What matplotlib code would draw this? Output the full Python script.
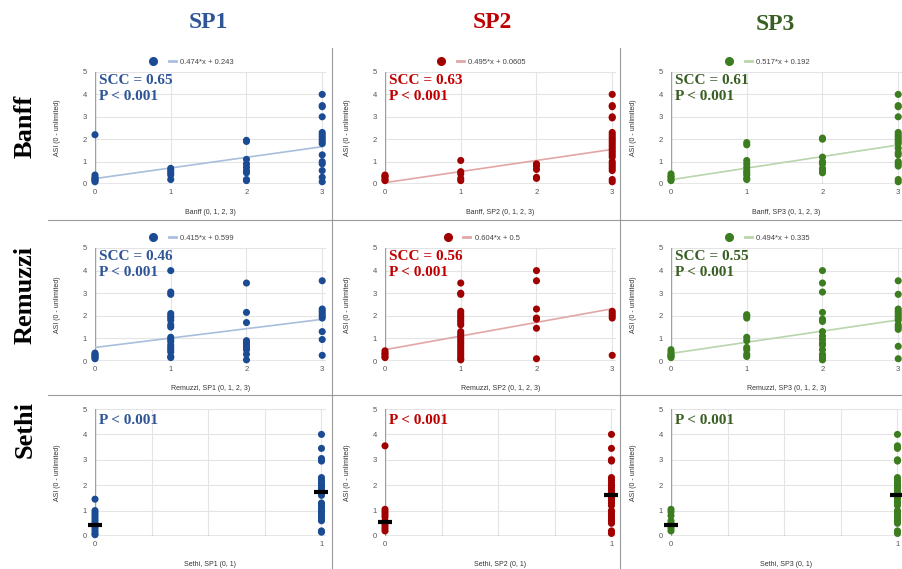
import matplotlib.pyplot as plt
from matplotlib.lines import Line2D

# ASI (0 - unlimited) values, one inner list per grade (index = grade)
banff_sp1 = [
    [2.2, 0.4, 0.3, 0.25, 0.2, 0.15, 0.1],
    [0.7, 0.6, 0.5, 0.4, 0.2],
    [1.95, 1.9, 1.1, 0.9, 0.75, 0.6, 0.5, 0.2, 0.15],
    [4.0, 3.5, 3.45, 3.0, 2.3, 2.2, 2.1, 2.0, 1.9, 1.8, 1.3, 1.0, 0.9, 0.6, 0.3, 0.1],
]
banff_sp2 = [
    [0.4, 0.35, 0.3, 0.2, 0.15],
    [1.05, 0.55, 0.45, 0.25, 0.15],
    [0.9, 0.8, 0.65, 0.3, 0.25],
    [4.0, 3.5, 3.45, 3.0, 2.95, 2.3, 2.2, 2.1, 2.0, 1.9, 1.8, 1.7, 1.6, 1.5, 1.4,
     1.3, 1.2, 1.0, 0.9, 0.8, 0.7, 0.6, 0.2, 0.1],
]
banff_sp3 = [
    [0.45, 0.35, 0.3, 0.2, 0.15],
    [1.85, 1.75, 1.05, 0.9, 0.75, 0.6, 0.5, 0.4, 0.25, 0.2],
    [2.05, 2.0, 1.2, 1.0, 0.9, 0.7, 0.6, 0.5],
    [4.0, 3.5, 3.45, 3.0, 2.3, 2.2, 2.1, 2.0, 1.9, 1.8, 1.6, 1.4, 1.3, 1.0, 0.9,
     0.8, 0.2, 0.1],
]
remuzzi_sp1 = [
    [0.35, 0.3, 0.25, 0.2, 0.15, 0.1],
    [4.0, 3.05, 2.95, 2.1, 2.0, 1.9, 1.8, 1.6, 1.5, 1.05, 0.95, 0.85, 0.7, 0.6,
     0.5, 0.4, 0.2, 0.15],
    [3.45, 2.15, 1.7, 0.9, 0.8, 0.7, 0.6, 0.5, 0.3, 0.05],
    [3.55, 2.3, 2.2, 2.1, 2.0, 1.9, 1.3, 0.95, 0.25],
]
remuzzi_sp2 = [
    [0.45, 0.35, 0.3, 0.2, 0.15],
    [3.45, 3.0, 2.95, 2.2, 2.1, 2.0, 1.9, 1.8, 1.7, 1.6, 1.3, 1.2, 1.1, 1.0, 0.9,
     0.8, 0.7, 0.6, 0.5, 0.4, 0.3, 0.2, 0.1, 0.05],
    [4.0, 3.55, 2.3, 1.9, 1.85, 1.45, 0.1],
    [2.2, 2.1, 2.0, 1.9, 0.25],
]
remuzzi_sp3 = [
    [0.5, 0.4, 0.3, 0.25, 0.2, 0.15],
    [2.05, 2.0, 1.9, 1.05, 0.9, 0.6, 0.5, 0.3, 0.2],
    [4.0, 3.45, 3.05, 2.15, 1.85, 1.75, 1.3, 1.1, 0.95, 0.8, 0.7, 0.5, 0.3, 0.2,
     0.1, 0.05],
    [3.55, 2.95, 2.3, 2.2, 2.1, 2.0, 1.9, 1.8, 1.6, 1.5, 1.4, 0.65, 0.1],
]
sethi_sp1 = [
    [1.45, 1.0, 0.9, 0.8, 0.7, 0.6, 0.5, 0.4, 0.3, 0.2, 0.1, 0.05],
    [4.0, 3.45, 3.05, 2.95, 2.3, 2.2, 2.1, 2.0, 1.9, 1.8, 1.7, 1.6, 1.3, 1.2, 1.1,
     1.0, 0.9, 0.8, 0.7, 0.6, 0.2, 0.15],
]
sethi_sp2 = [
    [3.55, 1.05, 0.95, 0.85, 0.75, 0.6, 0.5, 0.4, 0.3, 0.2],
    [4.0, 3.45, 3.0, 2.95, 2.3, 2.2, 2.1, 2.0, 1.9, 1.8, 1.7, 1.6, 1.5, 1.4, 1.3,
     1.2, 1.0, 0.9, 0.8, 0.7, 0.6, 0.5, 0.2, 0.1],
]
sethi_sp3 = [
    [1.05, 0.95, 0.8, 0.6, 0.5, 0.4, 0.3, 0.2],
    [4.0, 3.55, 3.45, 3.0, 2.95, 2.3, 2.2, 2.1, 2.0, 1.9, 1.8, 1.7, 1.6, 1.5, 1.4,
     1.3, 1.2, 1.0, 0.9, 0.8, 0.7, 0.6, 0.5, 0.2, 0.1],
]

# trend lines and statistics per SP column
banff_slope = [0.474, 0.495, 0.517]
banff_icpt = [0.243, 0.0605, 0.192]
remuzzi_slope = [0.415, 0.604, 0.494]
remuzzi_icpt = [0.599, 0.5, 0.335]
banff_scc = [0.65, 0.63, 0.61]
remuzzi_scc = [0.46, 0.56, 0.55]
sethi_means = [[0.45, 1.75], [0.55, 1.6], [0.45, 1.6]]

sp_names = ['SP1', 'SP2', 'SP3']
row_names = ['Banff', 'Remuzzi', 'Sethi']
dot_colors = ['#1b4b93', '#a10000', '#3b7d1f']
line_colors = ['#a9bedb', '#e2a6a6', '#b9d5ab']
text_colors = ['#2f5597', '#c00000', '#3a5f24']

W, H = 903, 569
fig = plt.figure(figsize=(W / 100, H / 100), dpi=100)
fig.patch.set_facecolor('white')

SERIF = 'Liberation Serif'
SANS = 'Liberation Sans'

col_left = [95, 385, 671]
ax_w = 231
row_top = [72, 248, 409]
row_bot = [184, 361, 536]

panels = [
    [banff_sp1, banff_sp2, banff_sp3],
    [remuzzi_sp1, remuzzi_sp2, remuzzi_sp3],
    [sethi_sp1, sethi_sp2, sethi_sp3],
]


def xlabel_for(r, c):
    if r == 0:
        return 'Banff (0, 1, 2, 3)' if c == 0 else 'Banff, %s (0, 1, 2, 3)' % sp_names[c]
    if r == 1:
        return 'Remuzzi, %s (0, 1, 2, 3)' % sp_names[c]
    return 'Sethi, %s (0, 1)' % sp_names[c]


for r in range(3):
    for c in range(3):
        h = row_bot[r] - row_top[r]
        ax = fig.add_axes([col_left[c] / W, 1 - row_bot[r] / H, ax_w / W, h / H])
        groups = panels[r][c]
        ngrades = len(groups)

        for s in ax.spines.values():
            s.set_visible(False)
        ax.set_ylim(0, 5)
        ax.set_yticks(range(6))
        if ngrades == 4:
            ax.set_xlim(0, 3.05)
            ax.set_xticks(range(4))
        else:
            ax.set_xlim(0, 1.02)
            ax.set_xticks([0, 1])
            ax.set_xticks([0.25, 0.5, 0.75], minor=True)
            ax.grid(True, which='minor', axis='x', color='#e4e4e4', lw=0.8)
        ax.grid(True, which='major', color='#e4e4e4', lw=0.8)
        ax.set_axisbelow(True)
        ax.tick_params(which='both', length=0, labelsize=5.5, labelcolor='#555555')
        ax.tick_params(axis='x', pad=3.5)
        ax.tick_params(axis='y', pad=6)
        for t in ax.get_xticklabels() + ax.get_yticklabels():
            t.set_fontfamily(SANS)
        ax.axhline(0, color='#8c8c8c', lw=1.0, zorder=2)
        ax.axvline(0, color='#a0a0a0', lw=1.0, zorder=2)

        # scatter points per grade
        for g, vals in enumerate(groups):
            ax.scatter([g] * len(vals), vals, s=26, color=dot_colors[c],
                       edgecolors='none', zorder=4, clip_on=False)

        if r < 2:
            slope = [banff_slope, remuzzi_slope][r][c]
            icpt = [banff_icpt, remuzzi_icpt][r][c]
            scc = [banff_scc, remuzzi_scc][r][c]
            xs = [0, 3]
            ax.plot(xs, [icpt + slope * x for x in xs], color=line_colors[c],
                    lw=1.2, zorder=3)
            handles = [
                Line2D([], [], marker='o', ls='', color=dot_colors[c], markersize=5.5),
                Line2D([], [], color=line_colors[c], lw=2),
            ]
            leg = ax.legend(handles, ['', '%g*x + %g' % (slope, icpt)], ncol=2,
                            loc='lower center', bbox_to_anchor=(0.42, 1.03),
                            frameon=False, handlelength=0.9, handletextpad=0.6,
                            columnspacing=1.0, borderaxespad=0,
                            prop={'family': SANS, 'size': 5.5})
            for t in leg.get_texts():
                t.set_color('#444444')
            stat = 'SCC = %.2f\nP < 0.001' % scc
            top = 1 - 2 / h
        else:
            ax.plot([0, 1], sethi_means[c], ls='', marker='_', markersize=10,
                    mew=3, color='black', zorder=5, clip_on=False)
            stat = 'P < 0.001'
            top = 1 - 5 / h

        ax.text(4 / ax_w, top, stat, transform=ax.transAxes, ha='left', va='top',
                fontfamily=SERIF, fontweight='bold', fontsize=11,
                color=text_colors[c], linespacing=1.35, zorder=6)

        ax.text(0.5, -28 / h, xlabel_for(r, c), transform=ax.transAxes,
                ha='center', va='center', fontsize=5, fontfamily=SANS, color='#333333')
        ax.text(-37 / ax_w, 0.5, 'ASI (0 - unlimited)', transform=ax.transAxes,
                ha='center', va='center', rotation=90, fontsize=5, fontfamily=SANS,
                color='#333333')

# column headers
for c, (x, y) in enumerate([(208, 22), (492, 22), (775, 24)]):
    fig.text(x / W, 1 - y / H, sp_names[c], ha='center', va='center',
             fontfamily=SERIF, fontweight='bold', fontsize=17, color=text_colors[c])

# row headers
for r, y in enumerate([126, 295, 430]):
    fig.text(25 / W, 1 - y / H, row_names[r], ha='center', va='center', rotation=90,
             fontfamily=SERIF, fontweight='bold', fontsize=19, color='black')

# panel separators
for x in [332, 620]:
    fig.add_artist(Line2D([x / W, x / W], [1 - 48 / H, 0], color='#9a9a9a', lw=0.8))
for y in [220, 395]:
    fig.add_artist(Line2D([48 / W, 1], [1 - y / H, 1 - y / H], color='#9a9a9a', lw=0.8))

fig.savefig('out.png', dpi=100)
